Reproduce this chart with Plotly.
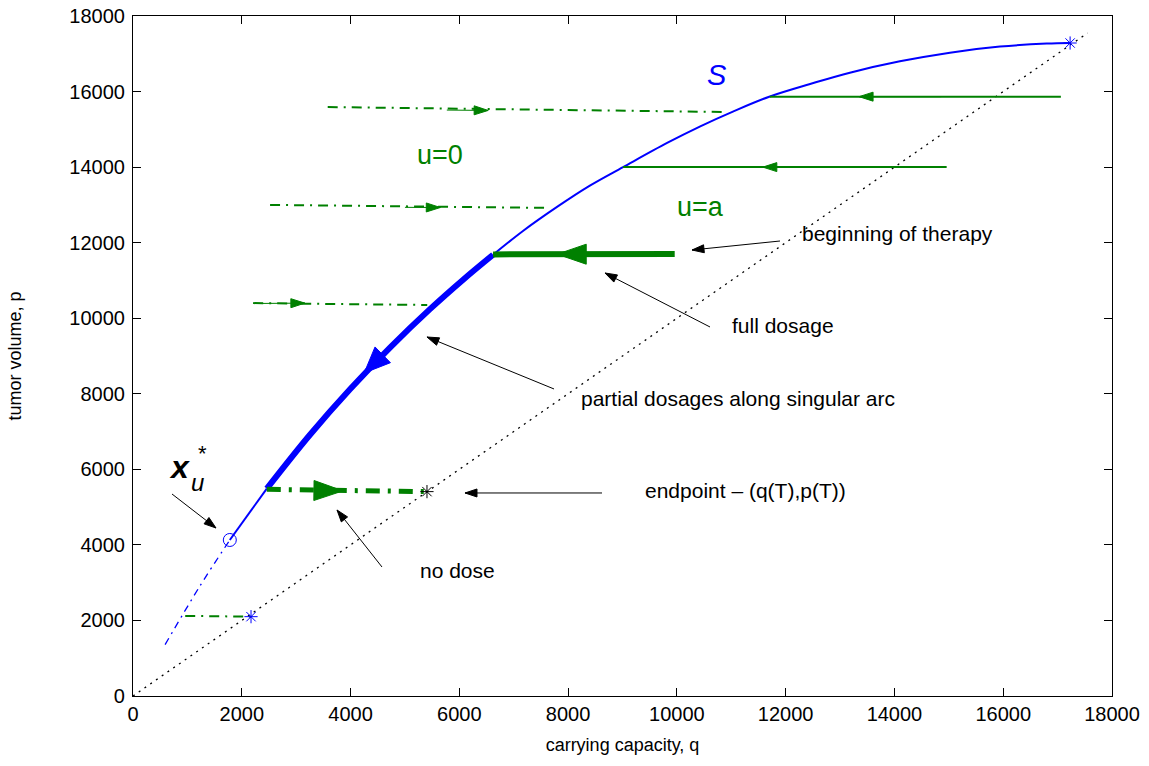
import math
import plotly.graph_objects as go

# ---------------- data ----------------
ticks = [0, 2000, 4000, 6000, 8000, 10000, 12000, 14000, 16000, 18000]
tick_labels = [str(t) for t in ticks]

# singular arc S (carrying capacity q, tumor volume p)
S_q = [590, 1230, 1780, 2460, 3250, 3990, 4730, 5460, 6070, 6620, 7170, 7810, 8400,
       9010, 9820, 10430, 11030, 11710, 12450, 13180, 14100, 15020, 15940, 16800, 17230]
S_p = [1360, 2910, 4130, 5490, 6910, 8120, 9230, 10240, 11020, 11680, 12310, 12960, 13510,
       14000, 14640, 15080, 15470, 15870, 16200, 16500, 16800, 17030, 17190, 17270, 17285]
i_circle = 2      # x_u^*
i_thick0 = 3      # start of partial dosage arc
i_thick1 = 9      # beginning of partial dosage arc (after full dosage)

diag_q = [0, 17550]
diag_p = [0, 17550]

# u=0 trajectories (dash-dot)
u0_lines = [
    ([3580, 10850], [15590, 15460]),
    ([2520, 7630], [13000, 12920]),
    ([2210, 5410], [10400, 10350]),
]
small_q = [960, 2170]
small_p = [2120, 2100]
nodose_q = [2460, 5405]
nodose_p = [5470, 5410]

# u=a trajectories (solid)
ua_lines = [
    ([11710, 17060], [15865, 15865]),
    ([9010, 14960], [14000, 14000]),
]
full_q = [6620, 9960]
full_p = [11690, 11700]

# markers
end_S = (17230, 17285)
end_small = (2170, 2100)
end_T = (5405, 5410)

# arrow heads on trajectories: (tip_q, tip_p, tail_q, tail_p)
green_thin_arrows = [
    (6530, 15500, 5770, 15510),
    (5650, 12930, 5000, 12935),
    (3160, 10400, 2210, 10390),
    (13350, 15865, 14860, 15865),
    (11580, 14000, 12740, 14000),
]
green_thick_arrows = [
    (7800, 11695, 8990, 11695),
    (3860, 5430, 3290, 5440),
]
blue_thick_arrow = (4250, 8550, 5130, 9790)

# annotation texts and arrows
notes = [
    ("beginning of therapy", 12263, 12256, 11896, 12044, 10278, 11806),
    ("full dosage", 10976, 9820, 10609, 9768, 8678, 11197),
    ("partial dosages along singular arc", 8200, 7888, 7741, 8127, 5405, 9503),
    ("endpoint \u2013 (q(T),p(T))", 9377, 5453, 8623, 5374, 6104, 5374),
    ("no dose", 5240, 3309, 4578, 3415, 3751, 4924),
]
xu_arrow = (717, 5347, 1526, 4447)

# ---------------- figure ----------------
GREEN = "#008000"
BLUE = "#0000ff"
FONT = "Liberation Sans, Arial, Helvetica, sans-serif"

W, H = 1149, 766
ML, MR, MT, MB = 133, 37, 16, 70
SX = (W - ML - MR) / 18000.0
SY = (H - MT - MB) / 18000.0

fig = go.Figure()


def line(q, p, color, width, dash="solid", shape="linear"):
    fig.add_trace(go.Scatter(x=q, y=p, mode="lines", showlegend=False, hoverinfo="skip",
                             line=dict(color=color, width=width, dash=dash, shape=shape,
                                       smoothing=1.0 if shape == "spline" else None)))


def head(tip_q, tip_p, tail_q, tail_p, L, hw, color):
    dx = (tip_q - tail_q) * SX
    dy = (tip_p - tail_p) * SY
    n = math.hypot(dx, dy)
    ux, uy = dx / n, dy / n
    bx, by = -L * ux, -L * uy
    px_, py_ = -uy * hw, ux * hw
    xs = [tip_q, tip_q + (bx + px_) / SX, tip_q + (bx - px_) / SX, tip_q]
    ys = [tip_p, tip_p + (by + py_) / SY, tip_p + (by - py_) / SY, tip_p]
    fig.add_trace(go.Scatter(x=xs, y=ys, mode="lines", fill="toself", fillcolor=color,
                             line=dict(color=color, width=1), showlegend=False,
                             hoverinfo="skip"))


# diagonal q = p
line(diag_q, diag_p, "black", 1.3, "2px,5px")

# singular arc
line(S_q[:i_circle + 1], S_p[:i_circle + 1], BLUE, 1.3, "7px,5px,2px,5px", "spline")
line(S_q[i_circle:i_thick0 + 1], S_p[i_circle:i_thick0 + 1], BLUE, 2)
line(S_q[i_thick0:i_thick1 + 1], S_p[i_thick0:i_thick1 + 1], BLUE, 6, shape="spline")
line(S_q[i_thick1:], S_p[i_thick1:], BLUE, 2, shape="spline")

# u=0 trajectories
for q, p in u0_lines:
    line(q, p, GREEN, 2, "10px,6px,2px,6px")
line(small_q, small_p, GREEN, 2, "10px,6px,2px,6px")
line(nodose_q, nodose_p, GREEN, 5, "14px,8px,3px,8px")

# u=a trajectories
for q, p in ua_lines:
    line(q, p, GREEN, 2)
line(full_q, full_p, GREEN, 6)

# arrow heads
for tq, tp, aq, ap in green_thin_arrows:
    line([aq, tq], [ap, tp], GREEN, 1)
    head(tq, tp, aq, ap, 14, 4.5, GREEN)
for tq, tp, aq, ap in green_thick_arrows:
    head(tq, tp, aq, ap, 29, 10, GREEN)
tq, tp, aq, ap = blue_thick_arrow
head(tq, tp, aq, ap, 26, 11, BLUE)

# markers
fig.add_trace(go.Scatter(x=[end_S[0], end_small[0]], y=[end_S[1], end_small[1]], mode="markers",
                         marker=dict(symbol="asterisk-open", size=11, color=BLUE,
                                     line=dict(color=BLUE, width=1)),
                         showlegend=False, hoverinfo="skip"))
fig.add_trace(go.Scatter(x=[end_T[0]], y=[end_T[1]], mode="markers",
                         marker=dict(symbol="asterisk-open", size=11, color="black",
                                     line=dict(color="black", width=1)),
                         showlegend=False, hoverinfo="skip"))
fig.add_trace(go.Scatter(x=[S_q[i_circle]], y=[S_p[i_circle]], mode="markers",
                         marker=dict(symbol="circle-open", size=13, color=BLUE,
                                     line=dict(color=BLUE, width=1)),
                         showlegend=False, hoverinfo="skip"))

# annotation arrows + texts
for text, tx, ty, aq, ap, tq, tp in notes:
    line([aq, tq], [ap, tp], "black", 1)
    head(tq, tp, aq, ap, 12, 4, "black")
    fig.add_annotation(x=tx, y=ty, text=text, showarrow=False, xanchor="left", yanchor="middle",
                       font=dict(family=FONT, size=21, color="black"))
aq, ap, tq, tp = xu_arrow
line([aq, tq], [ap, tp], "black", 1)
head(tq, tp, aq, ap, 12, 4, "black")

fig.add_annotation(x=864, y=6062, text="<b><i>x</i></b>", showarrow=False,
                   font=dict(family=FONT, size=32, color="black"))
fig.add_annotation(x=1190, y=5640, text="<i>u</i>", showarrow=False,
                   font=dict(family=FONT, size=24, color="black"))
fig.add_annotation(x=1280, y=6420, text="*", showarrow=False,
                   font=dict(family=FONT, size=22, color="black"))

fig.add_annotation(x=5645, y=14320, text="u=0", showarrow=False,
                   font=dict(family=FONT, size=27, color=GREEN))
fig.add_annotation(x=10425, y=12944, text="u=a", showarrow=False,
                   font=dict(family=FONT, size=27, color=GREEN))
fig.add_annotation(x=10737, y=16440, text="<i>S</i>", showarrow=False,
                   font=dict(family=FONT, size=29, color=BLUE))

axis_common = dict(range=[0, 18000], tickvals=ticks, ticktext=tick_labels,
                   showline=True, linecolor="black", linewidth=1.2, mirror="ticks",
                   ticks="inside", ticklen=8, tickwidth=1, tickcolor="black",
                   showgrid=False, zeroline=False, ticklabeloverflow="allow",
                   tickfont=dict(family=FONT, size=20, color="black"))

fig.update_layout(
    width=W, height=H,
    margin=dict(l=ML, r=MR, t=MT, b=MB, autoexpand=False),
    paper_bgcolor="white", plot_bgcolor="white",
    xaxis=dict(**axis_common,
               title=dict(text="carrying capacity, q", standoff=14,
                          font=dict(family=FONT, size=18, color="black"))),
    yaxis=dict(**axis_common, ticklabelstandoff=3,
               title=dict(text="tumor volume, p", standoff=42,
                          font=dict(family=FONT, size=18, color="black"))),
)

fig.write_html("out.html", config={"displayModeBar": False},
               post_script="document.body.style.margin='0px';document.body.style.overflow='hidden';")
